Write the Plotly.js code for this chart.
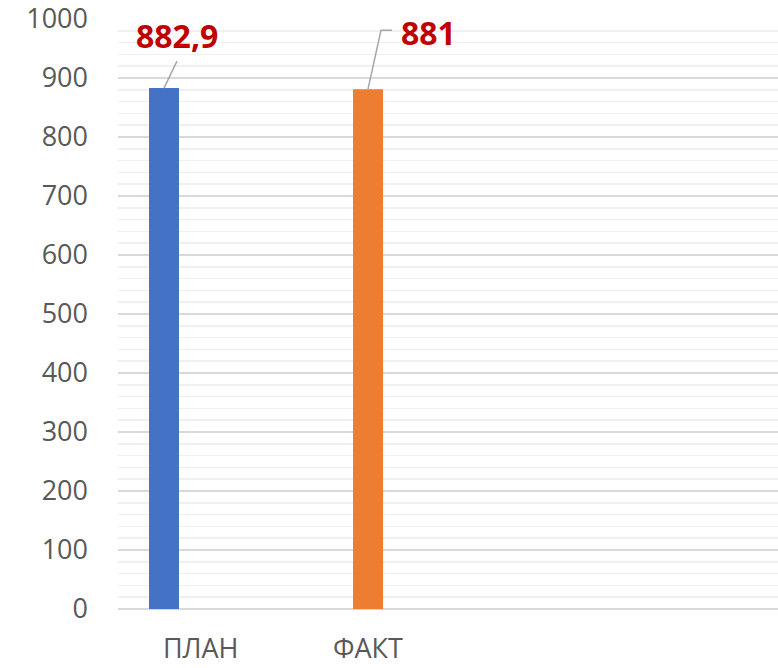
<!DOCTYPE html>
<html>
<head>
<meta charset="utf-8">
<script src="https://cdn.plot.ly/plotly-3.0.1.min.js"></script>
<style>html,body{margin:0;padding:0;background:#fff;}#chart{width:778px;height:668px;}</style>
</head>
<body>
<div id="chart"></div>
<script>
const categories = ["ПЛАН", "ФАКТ"];
const values = [882.9, 881];
const valueLabels = ["882,9", "881"];
const barColors = ["#4472C4", "#ED7D31"];
const yTickVals = [0, 100, 200, 300, 400, 500, 600, 700, 800, 900, 1000];

const xPos = categories.map((c, i) => i);
const labelTickPos = [0.18, 1.0];

const trace = {
  type: "bar",
  x: xPos,
  y: values,
  width: 0.147,
  marker: {color: barColors},
  hoverinfo: "none"
};

// label offsets (pixels) relative to bar top
const textShift = [[13, 53], [60, 57]];
const leaderPaths = [
  "M0,0 L13,27",
  "M0,0 L13,59 L24,59"
];

const annotations = values.map((v, i) => ({
  x: xPos[i], y: v, xref: "x", yref: "y",
  text: valueLabels[i],
  showarrow: false,
  xshift: textShift[i][0], yshift: textShift[i][1],
  font: {family: "Open Sans", size: 32, color: "#C00000", weight: "bold"}
}));

const shapes = values.map((v, i) => ({
  type: "path",
  xref: "x", yref: "y",
  xsizemode: "pixel", ysizemode: "pixel",
  xanchor: xPos[i], yanchor: v,
  path: leaderPaths[i],
  line: {color: "#A6A6A6", width: 1.5}
}));

const layout = {
  width: 778, height: 668,
  margin: {l: 118, r: 0, t: 19, b: 59},
  paper_bgcolor: "#fff", plot_bgcolor: "#fff",
  showlegend: false,
  xaxis: {
    range: [-0.2255, 3.0098],
    tickvals: labelTickPos,
    ticktext: categories,
    showgrid: false, zeroline: false, showline: false,
    ticks: "",
    ticklabelstandoff: 21,
    ticklabeloverflow: "allow",
    tickfont: {family: "Open Sans", size: 27, color: "#595959"}
  },
  yaxis: {
    range: [0, 1000],
    tickvals: yTickVals,
    showgrid: true, gridcolor: "#D9D9D9", gridwidth: 1.5,
    zeroline: true, zerolinecolor: "#D9D9D9", zerolinewidth: 1.5,
    showline: false, ticks: "",
    ticklabelstandoff: 29,
    ticklabeloverflow: "allow",
    tickfont: {family: "Open Sans", size: 27, color: "#595959"},
    minor: {dtick: 20, showgrid: true, gridcolor: "#F0F0F0", gridwidth: 1.5}
  },
  annotations: annotations,
  shapes: shapes
};

Plotly.newPlot("chart", [trace], layout, {staticPlot: true, displayModeBar: false});
</script>
</body>
</html>
